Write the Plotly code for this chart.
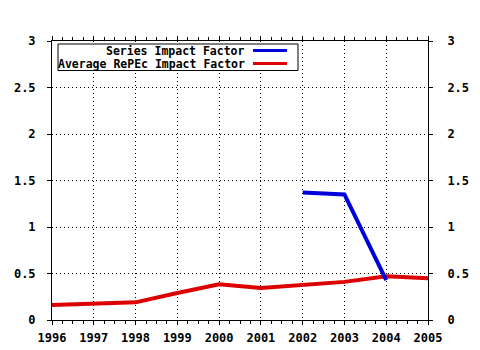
import plotly.graph_objects as go

years = [1996, 1997, 1998, 1999, 2000, 2001, 2002, 2003, 2004, 2005]
series_years = [2002, 2003, 2004]
series_if = [1.37, 1.35, 0.43]
avg_repec_if = [0.16, 0.17, 0.19, 0.29, 0.385, 0.345, 0.38, 0.41, 0.47, 0.45]
y_ticks = [0, 0.5, 1, 1.5, 2, 2.5, 3]
y_tick_labels = ["0", "0.5", "1", "1.5", "2", "2.5", "3"]
names = ["Series Impact Factor", "Average RePEc Impact Factor"]
colors = ["#0000dd", "#dd0000"]

W, H = 480, 350
L, R, T, B = 52, 52, 41, 30
pw, ph = W - L - R, H - T - B

def px(x):
    return (x - L) / pw

def py(y):
    return (H - B - y) / ph

FONT = dict(family="DejaVu Sans Mono", size=11.5, color="black")

fig = go.Figure()
fig.add_trace(go.Scatter(x=years, y=avg_repec_if, mode="lines", name=names[1],
                         line=dict(color=colors[1], width=4), showlegend=False))
fig.add_trace(go.Scatter(x=series_years, y=series_if, mode="lines", name=names[0],
                         line=dict(color=colors[0], width=4), showlegend=False))
# invisible trace for right axis
fig.add_trace(go.Scatter(x=[years[0]], y=[0], yaxis="y2", mode="markers",
                         marker=dict(opacity=0), showlegend=False, hoverinfo="skip"))

axis_common = dict(showline=True, linecolor="black", linewidth=1,
                   ticks="outside", ticklen=4, tickcolor="black", automargin=False,
                   tickfont=dict(family="DejaVu Sans Mono", size=12, color="black", weight="bold"),
                   zeroline=False)

fig.update_layout(
    width=W, height=H,
    margin=dict(l=L, r=R, t=T, b=B, pad=0, autoexpand=False),
    paper_bgcolor="white", plot_bgcolor="white",
    showlegend=False,
    xaxis=dict(range=[years[0], years[-1]], tickvals=years, ticktext=[str(y) for y in years],
               showgrid=True, gridcolor="black", griddash="1px,3px", gridwidth=1,
               mirror="ticks", ticklabelstandoff=3,
               minor=dict(dtick=0.25, ticks="outside", ticklen=3, tickcolor="black", showgrid=False),
               **axis_common),
    yaxis=dict(range=[0, 3], tickvals=y_ticks, ticktext=y_tick_labels,
               showgrid=True, gridcolor="black", griddash="1px,3px", gridwidth=1,
               ticklabelstandoff=9, **axis_common),
    yaxis2=dict(range=[0, 3], tickvals=y_ticks, ticktext=y_tick_labels, overlaying="y",
                side="right", showgrid=False, ticklabelstandoff=12, **axis_common),
)

# custom legend (text right-aligned, line sample on the right)
fig.add_shape(type="rect", xref="paper", yref="paper",
              x0=px(58), x1=px(298), y0=py(70.5), y1=py(44),
              line=dict(color="black", width=1), fillcolor="white", layer="above")
rows = [50.5, 63.5]
for name, color, ry in zip(names, colors, rows):
    fig.add_annotation(xref="paper", yref="paper", x=px(247), y=py(ry), text="<b>" + name + "</b>",
                       showarrow=False, xanchor="right", yanchor="middle",
                       font=FONT)
    fig.add_shape(type="line", xref="paper", yref="paper",
                  x0=px(253), x1=px(287), y0=py(ry), y1=py(ry),
                  line=dict(color=color, width=3), layer="above")

fig.write_html("out.html")
